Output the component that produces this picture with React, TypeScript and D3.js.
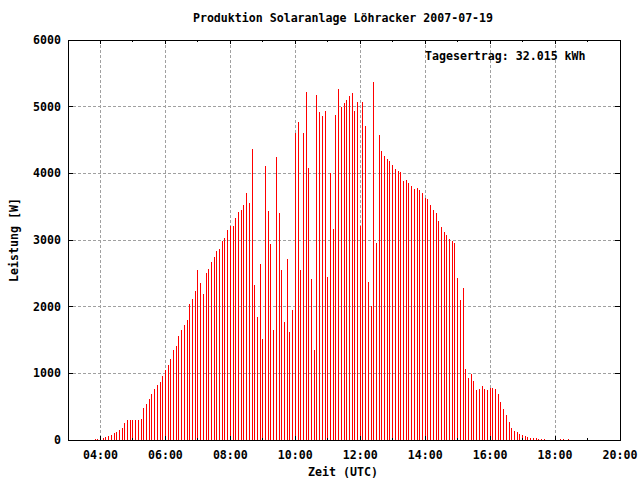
import React from "react";
import * as d3 from "d3";

const title = "Produktion Solaranlage Löhracker 2007-07-19";
const yieldText = "Tagesertrag: 32.015 kWh";
const xLabel = "Zeit (UTC)";
const yLabel = "Leistung [W]";

// 5-minute samples starting 03:50 UTC
const startHour = 3 + 50 / 60;
const stepHours = 5 / 60;
const power = [
  15, 15, 30, 30, 45, 60, 75, 105, 120, 150, 180, 255, 300, 300, 300, 300, 300, 315,
  480, 540, 615, 690, 765, 825, 870, 960, 1050, 1125, 1215, 1350, 1410, 1560, 1650,
  1725, 1800, 2040, 2115, 2235, 2550, 2355, 2190, 2505, 2565, 2670, 2745, 2835, 2865,
  2985, 3030, 3150, 3210, 3210, 3330, 3420, 3450, 3525, 3705, 3555, 4365, 2325, 1845,
  2640, 1515, 4110, 3435, 2940, 1650, 4245, 3405, 2550, 1770, 2715, 1620, 1950, 4605,
  4770, 2550, 4605, 5220, 4080, 2415, 1350, 5175, 4920, 4860, 4935, 2445, 4005, 3165,
  4875, 5265, 4995, 5055, 5100, 5160, 5205, 4935, 5070, 3210, 5070, 4710, 2370, 2010,
  5370, 2955, 4575, 4335, 4260, 4215, 4185, 4125, 4065, 4035, 4020, 3885, 3900, 3855,
  3810, 3765, 3780, 3750, 3705, 3630, 3615, 3525, 3450, 3405, 3285, 3195, 3120, 3075,
  3015, 2985, 2955, 2430, 2100, 2280, 1065, 930, 990, 885, 750, 765, 810, 765, 750,
  780, 780, 765, 690, 570, 465, 375, 270, 180, 135, 120, 90, 75, 60, 45, 30, 30, 30,
  15, 15, 15, 0, 0, 0, 0, 0, 15, 15, 0, 15,
];

const xMajorTicks = [4, 6, 8, 10, 12, 14, 16, 18, 20];
const xMinorTicks = [5, 7, 9, 11, 13, 15, 17, 19];
const yTicks = [0, 1000, 2000, 3000, 4000, 5000, 6000];

const fmtHour = (h: number) => `${String(h).padStart(2, "0")}:00`;

export default function App() {
  const W = 640, H = 480;
  const left = 68, right = 620, top = 40, bottom = 440;
  const x = d3.scaleLinear().domain([3, 20]).range([left, right]);
  const y = d3.scaleLinear().domain([0, 6000]).range([bottom, top]);
  const px = (v: number) => Math.floor(v) + 0.5;
  const font = "'DejaVu Sans Mono', monospace";
  const fs = 11.6;

  return (
    <svg width={W} height={H} style={{ position: "absolute", left: 0, top: 0, background: "#fff" }}
      fontFamily={font} fontWeight="bold" fontSize={fs}>
      <rect x={0} y={0} width={W} height={H} fill="#fff" />
      {/* grid */}
      <g stroke="#a0a0a0" strokeWidth={1} strokeDasharray="3,2" shapeRendering="crispEdges">
        {xMajorTicks.filter((t) => t < 20).map((t) => (
          <line key={"gx" + t} x1={px(x(t))} x2={px(x(t))} y1={top} y2={bottom} />
        ))}
        {yTicks.filter((t) => t > 0 && t < 6000).map((t) => (
          <line key={"gy" + t} x1={left} x2={right} y1={px(y(t))} y2={px(y(t))} />
        ))}
      </g>
      {/* impulses */}
      <g stroke="#ff0000" strokeWidth={1} shapeRendering="crispEdges">
        {power.map((v, i) =>
          v > 0 ? (
            <line key={i} x1={px(x(startHour + i * stepHours))} x2={px(x(startHour + i * stepHours))}
              y1={y(0)} y2={Math.round(y(v))} />
          ) : null
        )}
      </g>
      {/* border */}
      <rect x={px(left)} y={px(top)} width={Math.floor(right) - Math.floor(left)} height={Math.floor(bottom) - Math.floor(top)}
        fill="none" stroke="#000" strokeWidth={1} shapeRendering="crispEdges" />
      {/* ticks */}
      <g stroke="#000" strokeWidth={1} shapeRendering="crispEdges">
        {xMajorTicks.map((t) => (
          <g key={"xt" + t}>
            <line x1={px(x(t))} x2={px(x(t))} y1={bottom} y2={bottom - 4} />
            <line x1={px(x(t))} x2={px(x(t))} y1={top} y2={top + 4} />
          </g>
        ))}
        {xMinorTicks.map((t) => (
          <g key={"xm" + t}>
            <line x1={px(x(t))} x2={px(x(t))} y1={bottom} y2={bottom - 2} />
            <line x1={px(x(t))} x2={px(x(t))} y1={top} y2={top + 2} />
          </g>
        ))}
        {yTicks.map((t) => (
          <g key={"yt" + t}>
            <line x1={left} x2={left + 5} y1={px(y(t))} y2={px(y(t))} />
            <line x1={right} x2={right - 5} y1={px(y(t))} y2={px(y(t))} />
          </g>
        ))}
      </g>
      {/* tick labels */}
      {yTicks.map((t) => (
        <text key={"yl" + t} x={61} y={y(t)} dy="0.35em" textAnchor="end">{t}</text>
      ))}
      {xMajorTicks.map((t) => (
        <text key={"xl" + t} x={x(t)} y={455} dy="0.35em" textAnchor="middle">{fmtHour(t)}</text>
      ))}
      <text x={343} y={18} dy="0.35em" textAnchor="middle">{title}</text>
      <text x={343} y={472} dy="0.35em" textAnchor="middle">{xLabel}</text>
      <text transform="translate(14,240) rotate(-90)" dy="0.35em" textAnchor="middle">{yLabel}</text>
      <text x={425} y={56} dy="0.35em" textAnchor="start">{yieldText}</text>
    </svg>
  );
}
